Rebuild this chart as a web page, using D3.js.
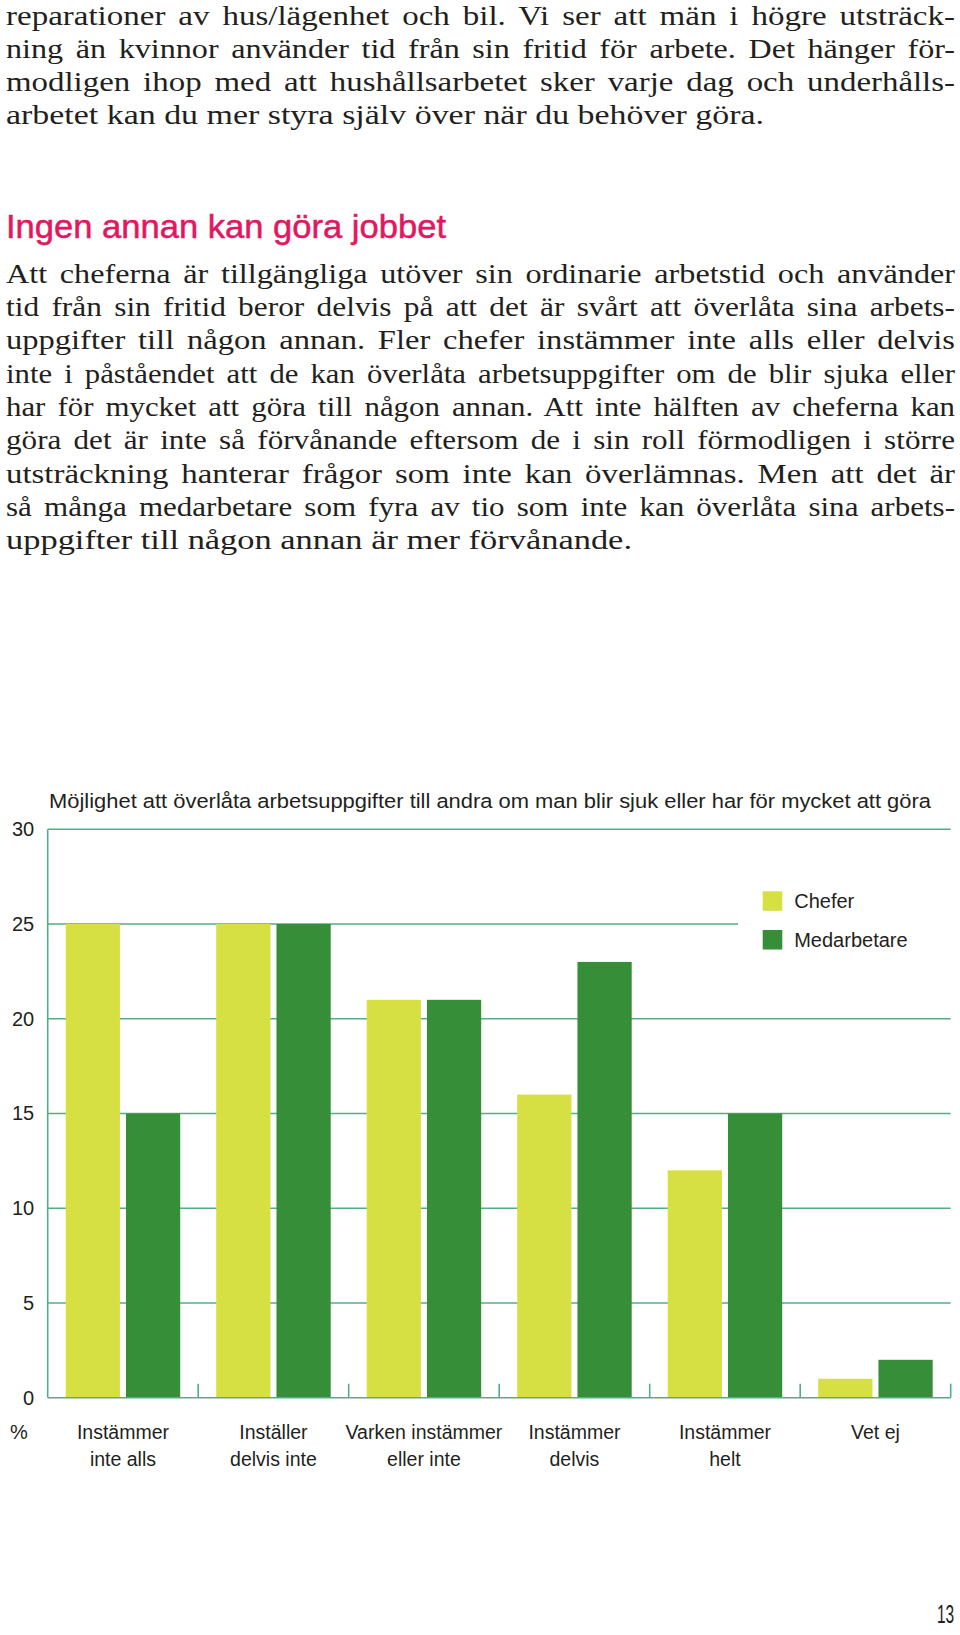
<!DOCTYPE html>
<html>
<head>
<meta charset="utf-8">
<script src="https://cdn.jsdelivr.net/npm/d3@7"></script>
<style>
  html, body { margin: 0; padding: 0; background: #fff; }
  svg { display: block; }
</style>
</head>
<body>
<script>
// ---------- data ----------
const categories = ["Instämmer\ninte alls", "Inställer\ndelvis inte", "Varken instämmer\neller inte", "Instämmer\ndelvis", "Instämmer\nhelt", "Vet ej"];
const seriesNames = ["Chefer", "Medarbetare"];
const chefer = [25, 25, 21, 16, 12, 1];
const medarbetare = [15, 25, 21, 23, 15, 2];
const yTicks = [0, 5, 10, 15, 20, 25, 30];
const chartTitle = "Möjlighet att överlåta arbetsuppgifter till andra om man blir sjuk eller har för mycket att göra";
const unitLabel = "%";

const para1 = [
  "reparationer av hus/lägenhet och bil. Vi ser att män i högre utsträck-",
  "ning än kvinnor använder tid från sin fritid för arbete. Det hänger för-",
  "modligen ihop med att hushållsarbetet sker varje dag och underhålls-",
  "arbetet kan du mer styra själv över när du behöver göra."
];
const heading = "Ingen annan kan göra jobbet";
const para2 = [
  "Att cheferna är tillgängliga utöver sin ordinarie arbetstid och använder",
  "tid från sin fritid beror delvis på att det är svårt att överlåta sina arbets-",
  "uppgifter till någon annan. Fler chefer instämmer inte alls eller delvis",
  "inte i påståendet att de kan överlåta arbetsuppgifter om de blir sjuka eller",
  "har för mycket att göra till någon annan. Att inte hälften av cheferna kan",
  "göra det är inte så förvånande eftersom de i sin roll förmodligen i större",
  "utsträckning hanterar frågor som inte kan överlämnas. Men att det är",
  "så många medarbetare som fyra av tio som inte kan överlåta sina arbets-",
  "uppgifter till någon annan är mer förvånande."
];
const pageNumber = "13";

// ---------- setup ----------
const W = 960, H = 1635;
const svg = d3.select("body").append("svg").attr("width", W).attr("height", H);
svg.append("rect").attr("width", W).attr("height", H).attr("fill", "#fff");

const serif = "'Liberation Serif', 'DejaVu Serif', serif";
const sans = "'Liberation Sans', Arial, 'Noto Sans', sans-serif";
const textCol = "#231f20";

// ---------- body text (justified) ----------
const left = 6, right = 955;
function drawPara(lines, y0, step, lastWidth) {
  lines.forEach((t, i) => {
    const last = i === lines.length - 1;
    const el = svg.append("text")
      .attr("x", left).attr("y", y0 + i * step)
      .attr("font-family", serif).attr("font-size", 28)
      .attr("fill", textCol).text(t);
    const target = last ? lastWidth : right - left;
    const natural = el.node().getComputedTextLength();
    const nSpaces = (t.match(/ /g) || []).length;
    if (!last && natural < target && nSpaces) {
      el.attr("word-spacing", Math.min(4, (target - natural) * 0.5 / nSpaces));
    }
    el.attr("textLength", target).attr("lengthAdjust", "spacingAndGlyphs");
  });
}
drawPara(para1, 25.2, 33.0, 758);
svg.append("text").attr("x", left).attr("y", 237.5)
  .attr("font-family", sans).attr("font-size", 33)
  .attr("fill", "#e2175f").attr("stroke", "#e2175f").attr("stroke-width", 0.5)
  .attr("textLength", 440).attr("lengthAdjust", "spacingAndGlyphs")
  .text(heading);
drawPara(para2, 282.5, 33.35, 626);

// ---------- chart ----------
const x0 = 47.7, x1r = 950.7, yTop = 829.3, yBot = 1397.7;
const gridCol = "#52ae86";
const colors = { "Chefer": "#d6e043", "Medarbetare": "#378e38" };

const x = d3.scaleBand().domain(categories).range([x0, x1r]).paddingInner(0).paddingOuter(0);
const xs = d3.scaleBand().domain(seriesNames).range([18, x.bandwidth() - 18]).paddingInner(0.1).paddingOuter(0);
const y = d3.scaleLinear().domain([0, 30]).range([yBot, yTop]);

// chart title
svg.append("text").attr("x", 49).attr("y", 808)
  .attr("font-family", sans).attr("font-size", 20.5).attr("fill", textCol)
  .attr("textLength", 882).attr("lengthAdjust", "spacingAndGlyphs")
  .text(chartTitle);

// gridlines (behind bars)
const g = svg.append("g");
g.selectAll("line.grid").data(yTicks.filter(d => d > 0)).join("line")
  .attr("class", "grid")
  .attr("x1", x0).attr("x2", d => d === 25 ? 738 : x1r)
  .attr("y1", d => y(d)).attr("y2", d => y(d))
  .attr("stroke", gridCol).attr("stroke-width", 1.6);

// bars
const rows = categories.map((c, i) => ({ cat: c, vals: [
  { s: "Chefer", v: chefer[i] }, { s: "Medarbetare", v: medarbetare[i] }] }));
const groups = svg.append("g").selectAll("g").data(rows).join("g")
  .attr("transform", d => `translate(${x(d.cat)},0)`);
groups.selectAll("rect").data(d => d.vals).join("rect")
  .attr("x", d => xs(d.s)).attr("width", xs.bandwidth())
  .attr("y", d => y(d.v)).attr("height", d => y(0) - y(d.v))
  .attr("fill", d => colors[d.s]);

// baseline & left axis line
svg.append("line").attr("x1", x0).attr("x2", x1r).attr("y1", yBot).attr("y2", yBot)
  .attr("stroke", gridCol).attr("stroke-width", 1.6);
svg.append("line").attr("x1", x0).attr("x2", x0).attr("y1", yTop).attr("y2", yBot)
  .attr("stroke", gridCol).attr("stroke-width", 1.6);

// category ticks at band boundaries
svg.append("g").selectAll("line").data(categories).join("line")
  .attr("x1", d => x(d) + x.bandwidth()).attr("x2", d => x(d) + x.bandwidth())
  .attr("y1", yBot).attr("y2", yBot - 14)
  .attr("stroke", gridCol).attr("stroke-width", 1.6);

// y axis labels
const yAxis = svg.append("g").attr("transform", `translate(${x0},0)`)
  .call(d3.axisLeft(y).tickValues(yTicks).tickSize(0).tickPadding(13.5).tickFormat(d3.format("d")));
yAxis.select(".domain").remove();
yAxis.selectAll("text").attr("font-family", sans).attr("font-size", 20).attr("fill", textCol);

// x labels
const xl = svg.append("g").selectAll("text").data(categories).join("text")
  .attr("x", d => x(d) + x.bandwidth() / 2)
  .attr("y", 1439)
  .attr("text-anchor", "middle")
  .attr("font-family", sans).attr("font-size", 19.5).attr("fill", textCol);
xl.each(function (d) {
  const lines = d.split("\n");
  d3.select(this).selectAll("tspan").data(lines).join("tspan")
    .attr("x", x(d) + x.bandwidth() / 2)
    .attr("dy", (l, i) => i === 0 ? 0 : 27)
    .text(l => l);
});

// unit label
svg.append("text").attr("x", 10).attr("y", 1439)
  .attr("font-family", sans).attr("font-size", 20).attr("fill", textCol)
  .text(unitLabel);

// legend
const lg = svg.append("g").selectAll("g").data(seriesNames).join("g")
  .attr("transform", (d, i) => `translate(762.7,${891.3 + i * 38.7})`);
lg.append("rect").attr("width", 19.6).attr("height", 19.5).attr("fill", d => colors[d]);
lg.append("text").attr("x", 31.5).attr("y", 17)
  .attr("font-family", sans).attr("font-size", 20).attr("fill", textCol)
  .text(d => d);

// page number (condensed via horizontal scale)
svg.append("text")
  .attr("transform", "translate(937,1623) scale(0.62,1)")
  .attr("font-family", sans).attr("font-size", 25).attr("fill", textCol)
  .text(pageNumber);
</script>
</body>
</html>
